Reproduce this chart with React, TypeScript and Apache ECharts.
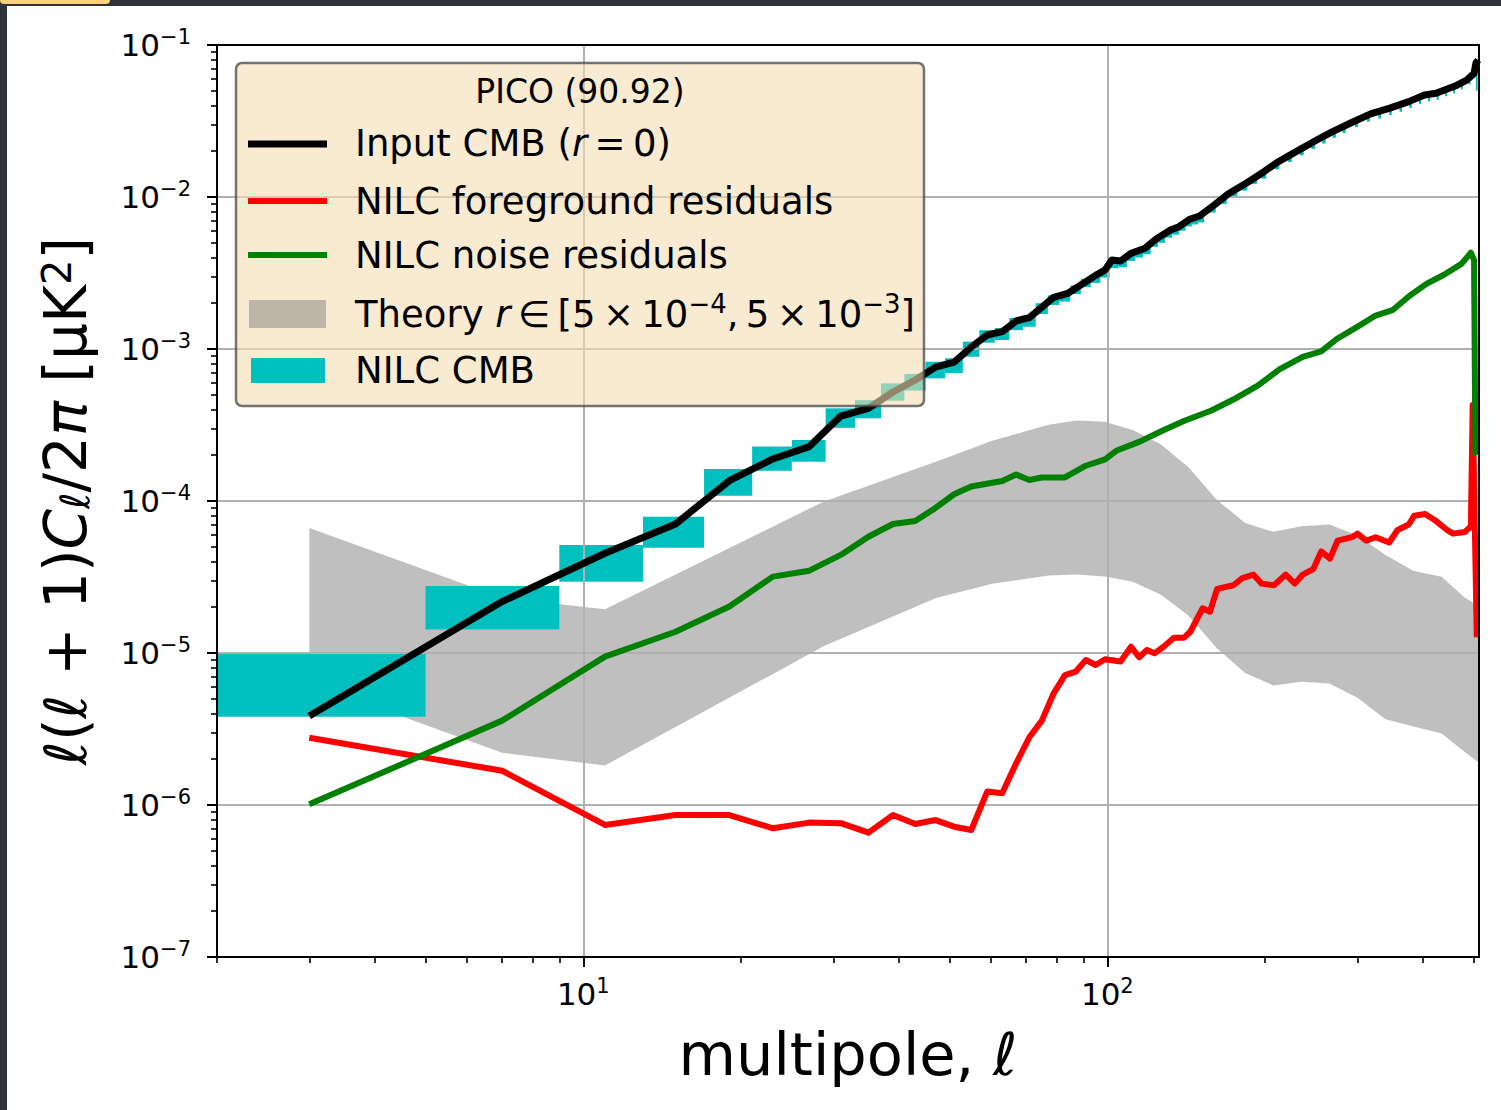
import React, { useEffect, useRef } from "react";
import * as echarts from "echarts";

// ---------------- data (multipole ell, value in uK^2) ----------------
const X_MIN = 2;
const X_MAX = 512;
const Y_EXPONENTS = [-7, -6, -5, -4, -3, -2, -1];
const X_MAJOR = [10, 100];
const X_MINOR = [2, 3, 4, 5, 6, 7, 8, 9, 20, 30, 40, 50, 60, 70, 80, 90, 200, 300, 400, 500];

const inputCmb: [number, number][] = [
  [3, 3.85e-6], [7, 2.18e-5], [11, 4.53e-5], [15, 7.06e-5], [19, 1.36e-4], [23, 1.89e-4],
  [27, 2.28e-4], [31, 3.62e-4], [35, 4.07e-4], [39, 5.21e-4], [43, 6.25e-4], [47, 7.6e-4],
  [51, 8.2e-4], [55, 1.03e-3], [59, 1.236e-3], [63, 1.3e-3], [67, 1.53e-3], [71, 1.61e-3],
  [79, 2.19e-3], [84, 2.32e-3], [95, 3.05e-3], [99, 3.31e-3], [102, 3.85e-3], [106, 3.79e-3],
  [111, 4.26e-3], [118, 4.6e-3], [124, 5.3e-3], [132, 6.07e-3], [137, 6.38e-3], [144, 7.17e-3],
  [150, 7.5e-3], [160, 8.86e-3], [170, 1.047e-2], [186, 1.26e-2], [199, 1.467e-2], [212, 1.706e-2],
  [231, 2.02e-2], [251, 2.37e-2], [269, 2.69e-2], [292, 3.08e-2], [318, 3.52e-2], [346, 3.84e-2],
  [376, 4.24e-2], [403, 4.69e-2], [424, 4.81e-2], [461, 5.37e-2], [485, 5.88e-2], [501, 6.51e-2],
  [505, 7.58e-2], [510, 7.96e-2],
];

const fgResiduals: [number, number][] = [
  [3, 2.77e-6], [7, 1.68e-6], [11, 7.39e-7], [15, 8.59e-7], [19, 8.59e-7], [23, 7.03e-7],
  [27, 7.66e-7], [31, 7.59e-7], [35, 6.58e-7], [39, 8.59e-7], [43, 7.5e-7], [47, 7.96e-7],
  [51, 7.2e-7], [55, 6.85e-7], [59, 1.225e-6], [63, 1.195e-6], [67, 1.88e-6], [71, 2.79e-6],
  [75, 3.59e-6], [79, 5.43e-6], [83, 7.16e-6], [87, 7.53e-6], [91, 8.99e-6], [95, 8.34e-6],
  [99, 9.1e-6], [106, 8.78e-6], [111, 1.1e-5], [115, 9.37e-6], [119, 1.047e-5], [123, 9.95e-6],
  [128, 1.1e-5], [134, 1.26e-5], [140, 1.26e-5], [144, 1.38e-5], [152, 1.97e-5], [157, 1.87e-5],
  [162, 2.64e-5], [174, 2.79e-5], [181, 3.11e-5], [190, 3.28e-5], [197, 2.86e-5], [208, 2.79e-5],
  [219, 3.28e-5], [228, 2.86e-5], [236, 3.28e-5], [247, 3.56e-5], [256, 4.66e-5], [266, 4.18e-5],
  [275, 5.48e-5], [293, 5.78e-5], [300, 6.1e-5], [312, 5.48e-5], [325, 5.78e-5], [345, 5.33e-5],
  [358, 6.44e-5], [376, 7.0e-5], [385, 8.0e-5], [404, 8.22e-5], [424, 7.38e-5], [445, 6.44e-5],
  [457, 6.1e-5], [481, 6.25e-5], [494, 6.81e-5], [498, 4.28e-4], [507, 1.27e-5],
];

const noiseResiduals: [number, number][] = [
  [3, 1.01e-6], [7, 3.59e-6], [11, 9.46e-6], [15, 1.38e-5], [19, 2.02e-5], [23, 3.18e-5],
  [27, 3.48e-5], [31, 4.42e-5], [35, 5.82e-5], [39, 7.06e-5], [43, 7.38e-5], [47, 9.0e-5],
  [51, 1.107e-4], [55, 1.247e-4], [63, 1.355e-4], [67, 1.493e-4], [71, 1.374e-4], [75, 1.428e-4],
  [83, 1.428e-4], [91, 1.706e-4], [99, 1.88e-4], [104, 2.14e-4], [115, 2.45e-4], [127, 2.89e-4],
  [140, 3.36e-4], [158, 3.94e-4], [174, 4.65e-4], [194, 5.77e-4], [213, 7.35e-4], [236, 8.89e-4],
  [256, 9.64e-4], [274, 1.164e-3], [301, 1.41e-3], [325, 1.66e-3], [350, 1.8e-3], [377, 2.23e-3],
  [407, 2.69e-3], [439, 3.08e-3], [474, 3.63e-3], [494, 4.3e-3], [501, 3.85e-3], [504, 2.01e-4],
];

const theoryEll = [3, 7, 11, 28.8, 47.1, 60.3, 77.3, 87.4, 98.8, 111.8, 126.4, 143, 161.7, 183.2, 207.3, 234.6, 265.3, 300.2, 339.5, 384.1, 434.5, 479.7, 510];
const theoryHigh = [6.64e-5, 2.31e-5, 1.94e-5, 9.94e-5, 1.81e-4, 2.49e-4, 3.18e-4, 3.39e-4, 3.32e-4, 2.93e-4, 2.36e-4, 1.66e-4, 1.02e-4, 7.17e-5, 6.27e-5, 6.81e-5, 7.0e-5, 5.94e-5, 4.42e-5, 3.46e-5, 3.18e-5, 2.33e-5, 2.04e-5];
const theoryLow = [6.38e-6, 2.21e-6, 1.82e-6, 1.11e-5, 2.3e-5, 2.86e-5, 3.23e-5, 3.28e-5, 3.19e-5, 2.94e-5, 2.43e-5, 1.76e-5, 1.08e-5, 7.4e-6, 6.12e-6, 6.47e-6, 6.29e-6, 5.07e-6, 3.66e-6, 3.29e-6, 2.95e-6, 2.25e-6, 1.92e-6];

// NILC CMB error boxes: [bin centre, low, high], bin half width 2
const BIN_HALF = 2;
const nilcCmb: [number, number, number][] = [
  [3, 3.81e-6, 9.84e-6], [7, 1.43e-5, 2.76e-5], [11, 2.94e-5, 5.14e-5], [15, 4.93e-5, 7.88e-5],
  [19, 1.084e-4, 1.625e-4], [23, 1.58e-4, 2.28e-4], [27, 1.815e-4, 2.52e-4], [31, 3.03e-4, 4.07e-4],
  [35, 3.5e-4, 4.61e-4], [39, 4.57e-4, 5.94e-4], [43, 5.32e-4, 6.86e-4], [47, 6.41e-4, 8.24e-4],
  [51, 6.95e-4, 8.69e-4], [55, 8.89e-4, 1.117e-3], [59, 1.1e-3, 1.33e-3], [63, 1.145e-3, 1.375e-3],
  [67, 1.33e-3, 1.6e-3], [71, 1.4e-3, 1.66e-3], [75, 1.7e-3, 2.0e-3], [79, 1.95e-3, 2.25e-3],
  [83, 2.05e-3, 2.35e-3], [87, 2.3e-3, 2.62e-3], [91, 2.55e-3, 2.9e-3], [95, 2.72e-3, 3.1e-3],
  [99, 2.95e-3, 3.35e-3], [103, 3.4e-3, 3.85e-3], [107, 3.45e-3, 3.9e-3], [111, 3.8e-3, 4.3e-3],
  [115, 4.0e-3, 4.5e-3], [119, 4.2e-3, 4.75e-3], [123, 4.7e-3, 5.25e-3], [127, 5.0e-3, 5.6e-3],
  [131, 5.4e-3, 6.0e-3], [135, 5.65e-3, 6.35e-3], [139, 6.0e-3, 6.7e-3], [143, 6.4e-3, 7.1e-3],
  [147, 6.6e-3, 7.35e-3], [151, 6.8e-3, 7.6e-3], [159, 7.9e-3, 8.8e-3], [167, 9.0e-3, 1.0e-2],
  [175, 9.9e-3, 1.1e-2], [183, 1.1e-2, 1.23e-2], [191, 1.22e-2, 1.36e-2], [199, 1.32e-2, 1.47e-2],
  [211, 1.52e-2, 1.69e-2], [223, 1.7e-2, 1.9e-2], [235, 1.88e-2, 2.1e-2], [247, 2.07e-2, 2.3e-2],
  [259, 2.25e-2, 2.5e-2], [271, 2.45e-2, 2.72e-2], [283, 2.63e-2, 2.93e-2], [299, 2.88e-2, 3.2e-2],
  [315, 3.13e-2, 3.48e-2], [331, 3.28e-2, 3.65e-2], [347, 3.46e-2, 3.85e-2], [363, 3.64e-2, 4.05e-2],
  [379, 3.85e-2, 4.28e-2], [395, 4.1e-2, 4.55e-2], [411, 4.25e-2, 4.73e-2], [427, 4.36e-2, 4.85e-2],
  [443, 4.6e-2, 5.1e-2], [459, 4.8e-2, 5.35e-2], [475, 5.1e-2, 5.65e-2], [491, 5.5e-2, 6.1e-2],
  [507, 5.0e-2, 7.0e-2],
];

// ---------------- styling ----------------
const FONT = "DejaVu Sans";
const lg = Math.log10;
const toLog = (pts: [number, number][]) => pts.map(([x, y]) => [lg(x), lg(y)]);

const yMinor: number[] = [];
for (const e of Y_EXPONENTS.slice(0, -1)) for (let k = 2; k <= 9; k++) yMinor.push(lg(k) + e);

const tickRich = {
  b: { fontSize: 31, fontFamily: FONT, color: "#000", lineHeight: 37 },
  s: { fontSize: 21, fontFamily: FONT, color: "#000", verticalAlign: "top", lineHeight: 22 },
};

const hiddenAxisBits = {
  axisLabel: { show: false },
  splitLine: { show: false },
};

const W_BLACK = 7;
const W_COLOR = 6;

function buildOption() {
  const xMin = lg(X_MIN);
  const xMax = lg(X_MAX);
  const yMin = Y_EXPONENTS[0];
  const yMax = Y_EXPONENTS[Y_EXPONENTS.length - 1];

  const boxes = nilcCmb.map(([c, lo, hi]) => [
    lg(Math.max(c - BIN_HALF, X_MIN)),
    lg(Math.min(c + BIN_HALF, X_MAX)),
    lg(lo),
    lg(hi),
  ]);

  const legendX = 236, legendY = 63;
  const labelX = 355;
  const legendText = (y: number, text: string) => ({
    type: "text",
    z: 101,
    x: labelX,
    y,
    style: {
      text,
      fontSize: 37,
      fontFamily: FONT,
      fill: "#000",
      verticalAlign: "middle",
      lineHeight: 46,
      rich: {
        i: { fontSize: 37, fontFamily: FONT, fontStyle: "italic", fill: "#000", lineHeight: 46 },
        sup: { fontSize: 26, fontFamily: FONT, fill: "#000", verticalAlign: "top", lineHeight: 26 },
      },
    },
  });

  return {
    animation: false,
    backgroundColor: "#ffffff",
    grid: { left: 217, right: 22, top: 45, bottom: 153, show: false },
    xAxis: [
      {
        type: "value", min: xMin, max: xMax, position: "bottom", z: 3,
        axisLine: { show: true, onZero: false, lineStyle: { color: "#000", width: 2 } },
        axisTick: { show: true, customValues: X_MAJOR.map(lg), length: 10, lineStyle: { color: "#000", width: 2 } },
        axisLabel: {
          customValues: X_MAJOR.map(lg),
          formatter: (v: number) => `{b|10}{s|${Math.round(v)}}`,
          rich: tickRich, margin: 18,
        },
        splitLine: { show: true, lineStyle: { color: "#b0b0b0", width: 2 } },
        name: "multipole, {i|ℓ}",
        nameLocation: "middle",
        nameGap: 68,
        nameTextStyle: {
          fontSize: 59, fontFamily: FONT, color: "#000",
          rich: { i: { fontSize: 59, fontFamily: FONT, fontStyle: "italic", color: "#000" } },
        },
      },
      {
        type: "value", min: xMin, max: xMax, position: "bottom", z: 3,
        axisLine: { show: false, onZero: false },
        axisTick: { show: true, customValues: X_MINOR.map(lg), length: 6, lineStyle: { color: "#000", width: 1.6 } },
        ...hiddenAxisBits,
      },
      {
        type: "value", min: xMin, max: xMax, position: "top", z: 6,
        axisLine: { show: true, onZero: false, lineStyle: { color: "#000", width: 2 } },
        axisTick: { show: false },
        ...hiddenAxisBits,
      },
    ],
    yAxis: [
      {
        type: "value", min: yMin, max: yMax, interval: 1, position: "left", z: 3,
        axisLine: { show: true, onZero: false, lineStyle: { color: "#000", width: 2 } },
        axisTick: { show: true, customValues: Y_EXPONENTS, length: 10, lineStyle: { color: "#000", width: 2 } },
        axisLabel: {
          customValues: Y_EXPONENTS,
          formatter: (v: number) => `{b|10}{s|−${-Math.round(v)}}`,
          rich: tickRich, margin: 26,
        },
        splitLine: { show: true, lineStyle: { color: "#b0b0b0", width: 2 } },
        name: "{i|ℓ}({i|ℓ} + 1){i|C}{sub|ℓ}/2{i|π} [μK{sup|2}]",
        nameLocation: "middle",
        nameRotate: 90,
        nameGap: 122,
        nameTextStyle: {
          fontSize: 58, fontFamily: FONT, color: "#000",
          rich: {
            i: { fontSize: 58, fontFamily: FONT, fontStyle: "italic", color: "#000" },
            sub: { fontSize: 40, fontFamily: FONT, fontStyle: "italic", color: "#000", verticalAlign: "bottom" },
            sup: { fontSize: 40, fontFamily: FONT, color: "#000", verticalAlign: "top" },
          },
        },
      },
      {
        type: "value", min: yMin, max: yMax, position: "left", z: 3,
        axisLine: { show: false, onZero: false },
        axisTick: { show: true, customValues: yMinor, length: 6, lineStyle: { color: "#000", width: 1.6 } },
        ...hiddenAxisBits,
      },
      {
        type: "value", min: yMin, max: yMax, position: "right", z: 6,
        axisLine: { show: true, onZero: false, lineStyle: { color: "#000", width: 2 } },
        axisTick: { show: false },
        ...hiddenAxisBits,
      },
    ],
    series: [
      {
        name: "Theory",
        type: "custom",
        z: 1,
        data: [[lg(theoryEll[0]), lg(theoryHigh[0])]],
        renderItem: (params: any, api: any) => {
          if (params.dataIndex !== 0) return null;
          const pts: number[][] = [];
          for (let i = 0; i < theoryEll.length; i++) pts.push(api.coord([lg(theoryEll[i]), lg(theoryHigh[i])]));
          for (let i = theoryEll.length - 1; i >= 0; i--) pts.push(api.coord([lg(theoryEll[i]), lg(theoryLow[i])]));
          return { type: "polygon", shape: { points: pts }, style: { fill: "rgba(128,128,128,0.5)" } };
        },
      },
      {
        name: "NILC CMB",
        type: "custom",
        z: 2,
        data: boxes,
        encode: { x: [0, 1], y: [2, 3] },
        renderItem: (params: any, api: any) => {
          const p1 = api.coord([api.value(0), api.value(3)]);
          const p2 = api.coord([api.value(1), api.value(2)]);
          return {
            type: "rect",
            shape: { x: p1[0], y: p1[1], width: p2[0] - p1[0], height: p2[1] - p1[1] },
            style: { fill: "#00bfbf" },
          };
        },
      },
      {
        name: "Input CMB (r = 0)", type: "line", z: 4, showSymbol: false,
        data: toLog(inputCmb),
        lineStyle: { color: "#000000", width: W_BLACK, join: "round" },
      },
      {
        name: "NILC foreground residuals", type: "line", z: 4, showSymbol: false,
        data: toLog(fgResiduals),
        lineStyle: { color: "#ff0000", width: W_COLOR, join: "round" },
      },
      {
        name: "NILC noise residuals", type: "line", z: 4, showSymbol: false,
        data: toLog(noiseResiduals),
        lineStyle: { color: "#008000", width: W_COLOR, join: "round" },
      },
    ],
    graphic: [
      // page frame decoration
      { type: "rect", z: 200, shape: { x: 0, y: 0, width: 1501, height: 6 }, style: { fill: "#2f3237" } },
      { type: "rect", z: 200, shape: { x: 0, y: 0, width: 7, height: 1110 }, style: { fill: "#2f3237" } },
      { type: "rect", z: 201, shape: { x: 0, y: 0, width: 110, height: 4, r: [0, 0, 4, 4] }, style: { fill: "#fcd07c" } },
      // legend
      {
        type: "rect", z: 100,
        shape: { x: legendX, y: legendY, width: 688, height: 343, r: 6 },
        style: { fill: "rgba(245,222,179,0.6)", stroke: "rgba(70,70,70,0.75)", lineWidth: 2.5 },
      },
      {
        type: "text", z: 101, x: 580, y: 91,
        style: { text: "PICO (90.92)", fontSize: 33, fontFamily: FONT, fill: "#000", align: "center", verticalAlign: "middle" },
      },
      { type: "line", z: 101, shape: { x1: 248, y1: 144, x2: 327, y2: 144 }, style: { stroke: "#000", lineWidth: W_BLACK } },
      { type: "line", z: 101, shape: { x1: 248, y1: 201, x2: 327, y2: 201 }, style: { stroke: "#ff0000", lineWidth: W_COLOR } },
      { type: "line", z: 101, shape: { x1: 248, y1: 255, x2: 327, y2: 255 }, style: { stroke: "#008000", lineWidth: W_COLOR } },
      { type: "rect", z: 101, shape: { x: 249, y: 300, width: 77, height: 28 }, style: { fill: "rgba(128,128,128,0.5)" } },
      { type: "rect", z: 101, shape: { x: 251, y: 358, width: 74, height: 25 }, style: { fill: "#00bfbf" } },
      legendText(143, "Input CMB ({i|r}\u2009=\u20090)"),
      legendText(201, "NILC foreground residuals"),
      legendText(255, "NILC noise residuals"),
      legendText(314, "Theory {i|r}\u2009∈\u2009[5\u2009×\u200910{sup|−4},\u20095\u2009×\u200910{sup|−3}]"),
      legendText(370, "NILC CMB"),
    ],
  };
}

export default function App() {
  const ref = useRef<HTMLDivElement>(null);
  useEffect(() => {
    if (!ref.current) return;
    const chart = echarts.init(ref.current, null, { renderer: "svg" });
    chart.setOption(buildOption() as any);
    return () => chart.dispose();
  }, []);
  return (
    <div
      ref={ref}
      style={{ position: "fixed", left: 0, top: 0, width: 1501, height: 1110 }}
    />
  );
}
